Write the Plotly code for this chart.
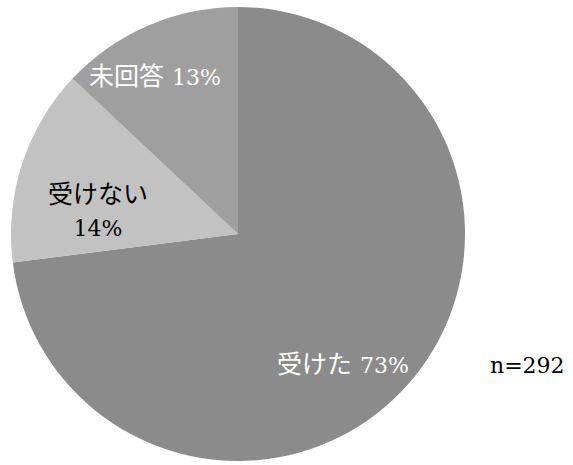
import plotly.graph_objects as go

# Survey responses (share of respondents, %)
labels = ["受けた", "受けない", "未回答"]
values = [73, 14, 13]
colors = ["#8b8b8b", "#c2c2c2", "#9f9f9f"]
n_total = 292

W, H = 573, 465
FONT = "DejaVu Serif, Liberation Serif, Noto Sans CJK JP, serif"
CJK_SIZE = 25
NUM_SIZE = 22

fig = go.Figure(
    go.Pie(
        labels=labels,
        values=values,
        sort=False,
        direction="clockwise",
        rotation=0,
        marker=dict(colors=colors, line=dict(width=0)),
        textinfo="none",
        hoverinfo="label+percent",
        showlegend=False,
        domain=dict(x=[11 / W, 465 / W], y=[1 - 461 / H, 1 - 7 / H]),
    )
)


def num(s):
    return f'<span style="font-size:{NUM_SIZE}px">{s}</span>'


# Label placement (pixel centre) and text colour for each slice
label_pos = [(343, 364, "white"), (98, 210, "black"), (155, 76, "white")]
for lab, val, (px, py, col) in zip(labels, values, label_pos):
    sep = "<br>" if lab == "受けない" else " "
    fig.add_annotation(
        x=px / W, y=1 - py / H, xref="paper", yref="paper",
        xanchor="center", yanchor="middle",
        text=f"{lab}{sep}{num(f'{val}%')}", showarrow=False,
        font=dict(family=FONT, size=CJK_SIZE, color=col),
        align="center",
    )

fig.add_annotation(
    x=527 / W, y=1 - 365 / H, xref="paper", yref="paper",
    xanchor="center", yanchor="middle",
    text=f"n={n_total}", showarrow=False,
    font=dict(family=FONT, size=NUM_SIZE, color="black"),
)

fig.update_layout(
    width=W, height=H,
    margin=dict(l=0, r=0, t=0, b=0),
    paper_bgcolor="white", plot_bgcolor="white",
)

fig.write_html("out.html")
